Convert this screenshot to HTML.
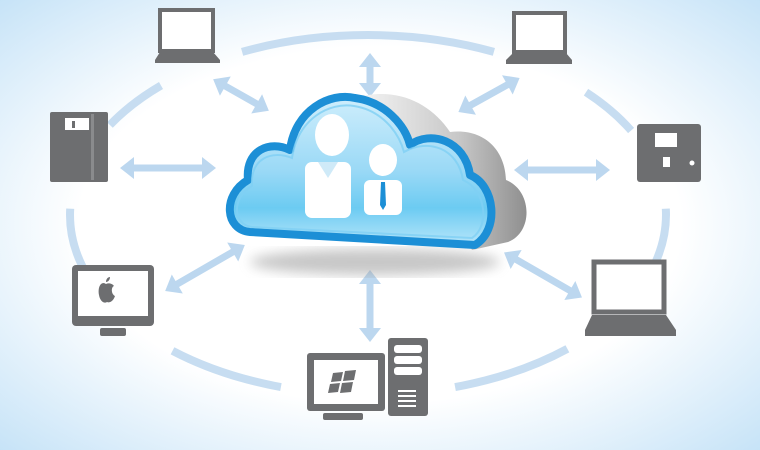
<!DOCTYPE html>
<html><head><meta charset="utf-8"><style>
html,body{margin:0;padding:0;width:760px;height:450px;overflow:hidden}
</style></head><body>
<svg width="760" height="450" viewBox="0 0 760 450" xmlns="http://www.w3.org/2000/svg">
<defs>
<radialGradient id="bg" cx="50%" cy="50%" r="72%">
<stop offset="0.55" stop-color="#ffffff"/><stop offset="1" stop-color="#c4e2f7"/>
</radialGradient>
<linearGradient id="cb" x1="0" y1="0" x2="0" y2="1">
<stop offset="0" stop-color="#cfeefc"/><stop offset="0.5" stop-color="#9ad9f6"/><stop offset="0.75" stop-color="#6ccbf2"/><stop offset="1" stop-color="#b8e6fa"/>
</linearGradient>
<linearGradient id="cg" x1="0" y1="0" x2="1" y2="0">
<stop offset="0" stop-color="#f6f6f6"/><stop offset="0.6" stop-color="#c8c8c8"/><stop offset="1" stop-color="#8f8f8f"/>
</linearGradient>
<filter id="bl"><feGaussianBlur stdDeviation="6"/></filter>
</defs>
<rect width="760" height="450" fill="url(#bg)"/>
<g fill="none" stroke="#c7ddf1" stroke-width="8">
<path d="M242.1 51.9 A298 180 0 0 1 493.9 51.9"/>
<path d="M109.9 125 A298 180 0 0 1 161 85.5"/>
<path d="M88 276.6 A298 180 0 0 1 70.2 208.7"/>
<path d="M280.9 387.1 A298 180 0 0 1 172.5 350.8"/>
<path d="M567.4 348.8 A298 180 0 0 1 455.1 387.1"/>
<path d="M665.8 208.7 A298 180 0 0 1 655.8 261.6"/>
<path d="M586 92.2 A298 180 0 0 1 631.1 130.5"/>
</g>
<g fill="#bcd7ef">
<g transform="translate(370,75) rotate(90)"><polygon points="-22,0 -8,-11 -8,-3.5 8,-3.5 8,-11 22,0 8,11 8,3.5 -8,3.5 -8,11"/></g>
<g transform="translate(168,168)"><polygon points="-48,0 -34,-11 -34,-3.5 34,-3.5 34,-11 48,0 34,11 34,3.5 -34,3.5 -34,11"/></g>
<g transform="translate(562,170)"><polygon points="-48,0 -34,-11 -34,-3.5 34,-3.5 34,-11 48,0 34,11 34,3.5 -34,3.5 -34,11"/></g>
<g transform="translate(241,95) rotate(29.5)"><polygon points="-32,0 -18,-11 -18,-3.5 18,-3.5 18,-11 32,0 18,11 18,3.5 -18,3.5 -18,11"/></g>
<g transform="translate(489,95) rotate(-29)"><polygon points="-35,0 -21,-11 -21,-3.5 21,-3.5 21,-11 35,0 21,11 21,3.5 -21,3.5 -21,11"/></g>
<g transform="translate(205,268) rotate(-30)"><polygon points="-46,0 -32,-11 -32,-3.5 32,-3.5 32,-11 46,0 32,11 32,3.5 -32,3.5 -32,11"/></g>
<g transform="translate(543,275) rotate(30)"><polygon points="-45,0 -31,-11 -31,-3.5 31,-3.5 31,-11 45,0 31,11 31,3.5 -31,3.5 -31,11"/></g>
<g transform="translate(370,306) rotate(90)"><polygon points="-36,0 -22,-11 -22,-3.5 22,-3.5 22,-11 36,0 22,11 22,3.5 -22,3.5 -22,11"/></g>
</g>
<ellipse cx="375" cy="262" rx="125" ry="13" fill="#9a9a9a" opacity="0.55" filter="url(#bl)"/>
<path d="M355 98 C395 86 430 102 450 132 C482 128 505 148 506 180 C532 190 534 232 508 242 L472 250 L420 160 Z" fill="url(#cg)"/>
<path d="M250 232 C225 230 222 195 248 180 C245 150 270 140 290 150 C295 110 330 92 355 98 C385 102 405 125 410 145 C430 130 465 140 470 175 C495 185 500 230 475 245 Z" fill="url(#cb)" stroke="#1c8fd6" stroke-width="8" stroke-linejoin="round"/>
<path d="M252 227 C233 225 231 198 252 186 C250 158 272 150 292 158 C298 118 330 102 354 106 C380 110 398 130 404 152 C428 138 458 148 463 180 C486 190 490 226 472 238 Z" fill="none" stroke="#7fd0f4" stroke-width="2" opacity="0.8"/>
<g fill="#ffffff">
<ellipse cx="332" cy="135" rx="17" ry="21"/>
<rect x="305" y="162" width="46" height="56" rx="7"/>
<ellipse cx="383" cy="160" rx="14" ry="16"/>
<rect x="364" y="180" width="38" height="35" rx="6"/>
</g>
<path d="M318 162 L328 178 L338 162 Z" fill="#cfeaf8"/>
<path d="M381 182 L385 182 L386 205 L383 210 L380 205 Z" fill="#1c8fd6"/>
<g fill="#6d6e70">
<rect x="160" y="10" width="53" height="41" fill="#fff" stroke="#6d6e70" stroke-width="4"/>
<path d="M160 52 L213 52 L220 60 L220 63 L155 63 L155 60 Z"/>
<rect x="514" y="13" width="51" height="39" fill="#fff" stroke="#6d6e70" stroke-width="4"/>
<path d="M513 53 L566 53 L572 60 L572 64 L506 64 L506 60 Z"/>
<rect x="50" y="112" width="58" height="70" rx="2"/>
<rect x="65" y="118" width="24" height="12" fill="#fff"/>
<rect x="91" y="114" width="3" height="66" fill="#8a8b8d"/>
<rect x="637" y="124" width="64" height="58" rx="3"/>
<rect x="655" y="133" width="22" height="14" fill="#fff"/>
<rect x="663" y="157" width="7" height="10" fill="#fff"/>
<circle cx="692" cy="163" r="2.5" fill="#fff"/>
<rect x="72" y="265" width="82" height="61" rx="4"/>
<rect x="78" y="271" width="70" height="45" fill="#fff"/>
<rect x="100" y="328" width="26" height="8" rx="2"/>
<rect x="594" y="262" width="70" height="50" fill="#fff" stroke="#6d6e70" stroke-width="5"/>
<path d="M592 315 L666 315 L676 330 L676 336 L585 336 L585 330 Z"/>
<rect x="307" y="353" width="78" height="58" rx="3"/>
<rect x="314" y="360" width="64" height="44" fill="#fff"/>
<rect x="323" y="413" width="40" height="7" rx="2"/>
<rect x="388" y="338" width="40" height="78" rx="3"/>
</g>
<g fill="#fff">
<rect x="394" y="345" width="28" height="8" rx="3"/><rect x="394" y="356" width="28" height="8" rx="3"/><rect x="394" y="367" width="28" height="8" rx="3"/>
<rect x="398" y="390" width="18" height="2"/><rect x="398" y="395" width="18" height="2"/><rect x="398" y="400" width="18" height="2"/><rect x="398" y="405" width="18" height="2"/>
</g>
<g fill="#6d6e70">
<path d="M104 283 C99 283 98 290 99 295 C100 301 104 304 107 302 C109 303 113 302 115 296 C111 294 111 287 114 286 C112 283 108 283 106 284 Z M106 282 C106 279 108 277 110 277 C110 280 108 282 106 282Z"/>
<path d="M333 373 L343 372 L341 381 L331 382 Z M345 371 L356 370 L354 380 L343 381 Z M330 384 L340 383 L338 392 L328 393 Z M342 383 L353 382 L351 392 L340 393 Z"/>
<rect x="72" y="121" width="3" height="7" fill="#6d6e70"/>
</g>
</svg>
</body></html>
